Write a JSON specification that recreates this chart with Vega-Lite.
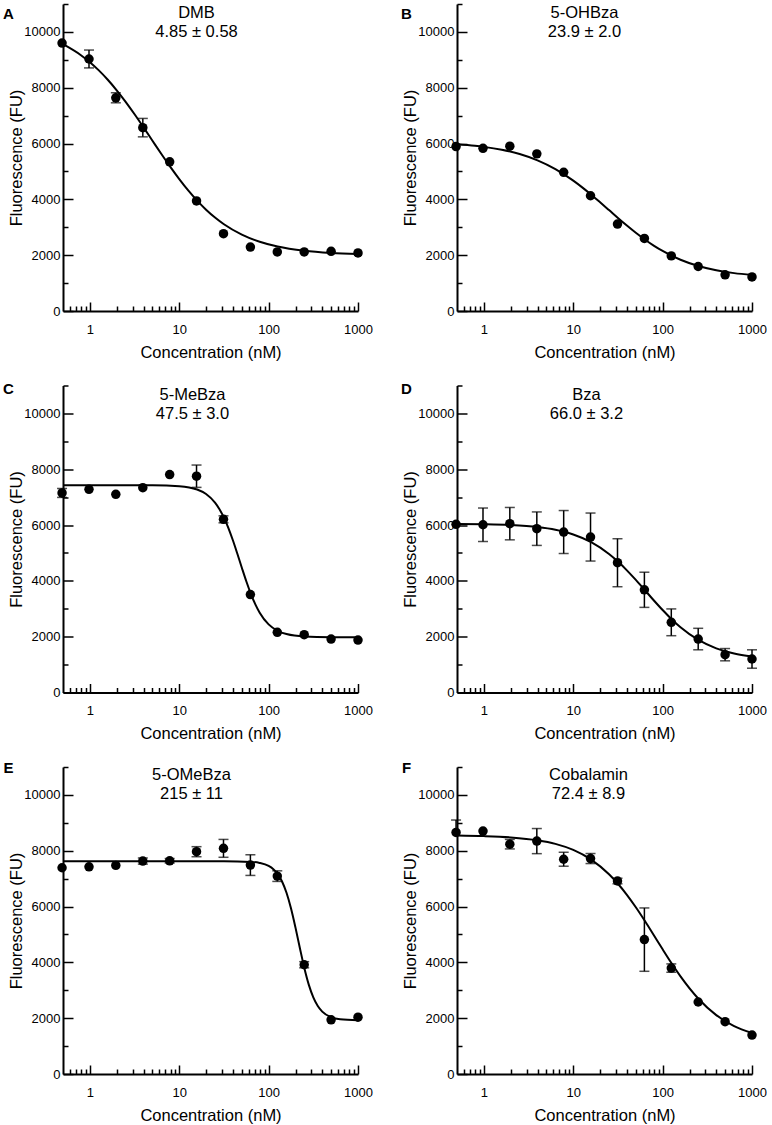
{
"$schema": "https://vega.github.io/schema/vega-lite/v6.json",
"padding": {"left": 2, "top": 3, "right": 0, "bottom": 0},
"data": {"values": [
{"p":"A","k":"pt","c":0.488,"y":9600,"lo":9600,"hi":9600},
{"p":"A","k":"pt","c":0.977,"y":9030,"lo":8710,"hi":9350},
{"p":"A","k":"pt","c":1.95,"y":7640,"lo":7460,"hi":7820},
{"p":"A","k":"pt","c":3.91,"y":6570,"lo":6240,"hi":6900},
{"p":"A","k":"pt","c":7.81,"y":5345,"lo":5345,"hi":5345},
{"p":"A","k":"pt","c":15.6,"y":3945,"lo":3945,"hi":3945},
{"p":"A","k":"pt","c":31.25,"y":2770,"lo":2770,"hi":2770},
{"p":"A","k":"pt","c":62.5,"y":2290,"lo":2290,"hi":2290},
{"p":"A","k":"pt","c":125,"y":2115,"lo":2115,"hi":2115},
{"p":"A","k":"pt","c":250,"y":2115,"lo":2115,"hi":2115},
{"p":"A","k":"pt","c":500,"y":2140,"lo":2140,"hi":2140},
{"p":"A","k":"pt","c":1000,"y":2080,"lo":2080,"hi":2080},

{"p":"B","k":"pt","c":0.488,"y":5890,"lo":5890,"hi":5890},
{"p":"B","k":"pt","c":0.977,"y":5830,"lo":5830,"hi":5830},
{"p":"B","k":"pt","c":1.95,"y":5905,"lo":5905,"hi":5905},
{"p":"B","k":"pt","c":3.91,"y":5630,"lo":5630,"hi":5630},
{"p":"B","k":"pt","c":7.81,"y":4970,"lo":4970,"hi":4970},
{"p":"B","k":"pt","c":15.6,"y":4130,"lo":4130,"hi":4130},
{"p":"B","k":"pt","c":31.25,"y":3115,"lo":3115,"hi":3115},
{"p":"B","k":"pt","c":62.5,"y":2600,"lo":2600,"hi":2600},
{"p":"B","k":"pt","c":125,"y":1975,"lo":1975,"hi":1975},
{"p":"B","k":"pt","c":250,"y":1595,"lo":1595,"hi":1595},
{"p":"B","k":"pt","c":500,"y":1295,"lo":1295,"hi":1295},
{"p":"B","k":"pt","c":1000,"y":1220,"lo":1220,"hi":1220},

{"p":"C","k":"pt","c":0.488,"y":7150,"lo":6990,"hi":7310},
{"p":"C","k":"pt","c":0.977,"y":7280,"lo":7280,"hi":7280},
{"p":"C","k":"pt","c":1.95,"y":7100,"lo":7100,"hi":7100},
{"p":"C","k":"pt","c":3.91,"y":7340,"lo":7340,"hi":7340},
{"p":"C","k":"pt","c":7.81,"y":7810,"lo":7810,"hi":7810},
{"p":"C","k":"pt","c":15.6,"y":7750,"lo":7350,"hi":8150},
{"p":"C","k":"pt","c":31.25,"y":6205,"lo":6080,"hi":6330},
{"p":"C","k":"pt","c":62.5,"y":3510,"lo":3510,"hi":3510},
{"p":"C","k":"pt","c":125,"y":2155,"lo":2155,"hi":2155},
{"p":"C","k":"pt","c":250,"y":2070,"lo":2070,"hi":2070},
{"p":"C","k":"pt","c":500,"y":1915,"lo":1915,"hi":1915},
{"p":"C","k":"pt","c":1000,"y":1880,"lo":1880,"hi":1880},

{"p":"D","k":"pt","c":0.488,"y":6025,"lo":6025,"hi":6025},
{"p":"D","k":"pt","c":0.977,"y":6010,"lo":5410,"hi":6610},
{"p":"D","k":"pt","c":1.95,"y":6050,"lo":5470,"hi":6630},
{"p":"D","k":"pt","c":3.91,"y":5870,"lo":5270,"hi":6470},
{"p":"D","k":"pt","c":7.81,"y":5750,"lo":4980,"hi":6520},
{"p":"D","k":"pt","c":15.6,"y":5570,"lo":4710,"hi":6430},
{"p":"D","k":"pt","c":31.25,"y":4650,"lo":3790,"hi":5510},
{"p":"D","k":"pt","c":62.5,"y":3680,"lo":3050,"hi":4310},
{"p":"D","k":"pt","c":125,"y":2515,"lo":2035,"hi":2995},
{"p":"D","k":"pt","c":250,"y":1915,"lo":1530,"hi":2300},
{"p":"D","k":"pt","c":500,"y":1355,"lo":1135,"hi":1575},
{"p":"D","k":"pt","c":1000,"y":1200,"lo":870,"hi":1530},

{"p":"E","k":"pt","c":0.488,"y":7390,"lo":7390,"hi":7390},
{"p":"E","k":"pt","c":0.977,"y":7425,"lo":7425,"hi":7425},
{"p":"E","k":"pt","c":1.95,"y":7475,"lo":7475,"hi":7475},
{"p":"E","k":"pt","c":3.91,"y":7630,"lo":7520,"hi":7740},
{"p":"E","k":"pt","c":7.81,"y":7640,"lo":7560,"hi":7720},
{"p":"E","k":"pt","c":15.6,"y":7965,"lo":7785,"hi":8145},
{"p":"E","k":"pt","c":31.25,"y":8085,"lo":7765,"hi":8405},
{"p":"E","k":"pt","c":62.5,"y":7485,"lo":7115,"hi":7855},
{"p":"E","k":"pt","c":125,"y":7090,"lo":6900,"hi":7280},
{"p":"E","k":"pt","c":250,"y":3915,"lo":3805,"hi":4025},
{"p":"E","k":"pt","c":500,"y":1940,"lo":1940,"hi":1940},
{"p":"E","k":"pt","c":1000,"y":2035,"lo":2035,"hi":2035},

{"p":"F","k":"pt","c":0.488,"y":8655,"lo":8655,"hi":9100},
{"p":"F","k":"pt","c":0.977,"y":8705,"lo":8705,"hi":8705},
{"p":"F","k":"pt","c":1.95,"y":8235,"lo":8065,"hi":8405},
{"p":"F","k":"pt","c":3.91,"y":8345,"lo":7895,"hi":8795},
{"p":"F","k":"pt","c":7.81,"y":7695,"lo":7445,"hi":7945},
{"p":"F","k":"pt","c":15.6,"y":7720,"lo":7540,"hi":7900},
{"p":"F","k":"pt","c":31.25,"y":6915,"lo":6815,"hi":7015},
{"p":"F","k":"pt","c":62.5,"y":4815,"lo":3680,"hi":5950},
{"p":"F","k":"pt","c":125,"y":3795,"lo":3645,"hi":3945},
{"p":"F","k":"pt","c":250,"y":2580,"lo":2580,"hi":2580},
{"p":"F","k":"pt","c":500,"y":1875,"lo":1875,"hi":1875},
{"p":"F","k":"pt","c":1000,"y":1395,"lo":1395,"hi":1395},

{"p":"A","k":"fit","c":0.5,"y":9560},{"p":"A","k":"fit","c":0.794,"y":9166},{"p":"A","k":"fit","c":1,"y":8915},{"p":"A","k":"fit","c":1.259,"y":8621},{"p":"A","k":"fit","c":1.585,"y":8286},{"p":"A","k":"fit","c":1.995,"y":7909},{"p":"A","k":"fit","c":2.512,"y":7494},{"p":"A","k":"fit","c":3.162,"y":7048},{"p":"A","k":"fit","c":3.981,"y":6580},{"p":"A","k":"fit","c":5.012,"y":6102},{"p":"A","k":"fit","c":6.31,"y":5625},{"p":"A","k":"fit","c":7.943,"y":5162},{"p":"A","k":"fit","c":10,"y":4724},{"p":"A","k":"fit","c":12.59,"y":4319},{"p":"A","k":"fit","c":15.85,"y":3954},{"p":"A","k":"fit","c":19.95,"y":3631},{"p":"A","k":"fit","c":25.12,"y":3349},{"p":"A","k":"fit","c":31.62,"y":3109},{"p":"A","k":"fit","c":50.12,"y":2736},{"p":"A","k":"fit","c":79.43,"y":2480},{"p":"A","k":"fit","c":125.9,"y":2309},{"p":"A","k":"fit","c":251.2,"y":2158},{"p":"A","k":"fit","c":501.2,"y":2080},{"p":"A","k":"fit","c":1000,"y":2040},

{"p":"B","k":"fit","c":0.5,"y":5974},{"p":"B","k":"fit","c":0.794,"y":5919},{"p":"B","k":"fit","c":1,"y":5881},{"p":"B","k":"fit","c":1.585,"y":5778},{"p":"B","k":"fit","c":2.512,"y":5623},{"p":"B","k":"fit","c":3.981,"y":5397},{"p":"B","k":"fit","c":6.31,"y":5083},{"p":"B","k":"fit","c":10,"y":4670},{"p":"B","k":"fit","c":12.59,"y":4429},{"p":"B","k":"fit","c":15.85,"y":4169},{"p":"B","k":"fit","c":19.95,"y":3895},{"p":"B","k":"fit","c":25.12,"y":3615},{"p":"B","k":"fit","c":31.62,"y":3333},{"p":"B","k":"fit","c":39.81,"y":3060},{"p":"B","k":"fit","c":50.12,"y":2801},{"p":"B","k":"fit","c":63.1,"y":2561},{"p":"B","k":"fit","c":79.43,"y":2343},{"p":"B","k":"fit","c":100,"y":2150},{"p":"B","k":"fit","c":158.5,"y":1838},{"p":"B","k":"fit","c":251.2,"y":1613},{"p":"B","k":"fit","c":398.1,"y":1460},{"p":"B","k":"fit","c":631,"y":1357},{"p":"B","k":"fit","c":1000,"y":1290},

{"p":"C","k":"fit","c":0.5,"y":7430},{"p":"C","k":"fit","c":1.995,"y":7430},{"p":"C","k":"fit","c":5.012,"y":7426},{"p":"C","k":"fit","c":10,"y":7393},{"p":"C","k":"fit","c":15.85,"y":7272},{"p":"C","k":"fit","c":19.95,"y":7110},{"p":"C","k":"fit","c":25.12,"y":6802},{"p":"C","k":"fit","c":28.18,"y":6567},{"p":"C","k":"fit","c":31.62,"y":6265},{"p":"C","k":"fit","c":35.48,"y":5892},{"p":"C","k":"fit","c":39.81,"y":5455},{"p":"C","k":"fit","c":44.67,"y":4972},{"p":"C","k":"fit","c":50.12,"y":4472},{"p":"C","k":"fit","c":56.23,"y":3986},{"p":"C","k":"fit","c":63.1,"y":3546},{"p":"C","k":"fit","c":70.79,"y":3169},{"p":"C","k":"fit","c":79.43,"y":2861},{"p":"C","k":"fit","c":100,"y":2441},{"p":"C","k":"fit","c":125.9,"y":2211},{"p":"C","k":"fit","c":158.5,"y":2093},{"p":"C","k":"fit","c":251.2,"y":2006},{"p":"C","k":"fit","c":501.2,"y":1983},{"p":"C","k":"fit","c":1000,"y":1980},

{"p":"D","k":"fit","c":0.5,"y":6041},{"p":"D","k":"fit","c":1,"y":6029},{"p":"D","k":"fit","c":1.995,"y":5999},{"p":"D","k":"fit","c":3.981,"y":5926},{"p":"D","k":"fit","c":6.31,"y":5829},{"p":"D","k":"fit","c":10,"y":5662},{"p":"D","k":"fit","c":15.85,"y":5387},{"p":"D","k":"fit","c":25.12,"y":4964},{"p":"D","k":"fit","c":31.62,"y":4690},{"p":"D","k":"fit","c":39.81,"y":4377},{"p":"D","k":"fit","c":50.12,"y":4034},{"p":"D","k":"fit","c":63.1,"y":3672},{"p":"D","k":"fit","c":79.43,"y":3306},{"p":"D","k":"fit","c":100,"y":2954},{"p":"D","k":"fit","c":125.9,"y":2628},{"p":"D","k":"fit","c":158.5,"y":2338},{"p":"D","k":"fit","c":251.2,"y":1883},{"p":"D","k":"fit","c":398.1,"y":1582},{"p":"D","k":"fit","c":631,"y":1397},{"p":"D","k":"fit","c":1000,"y":1289},

{"p":"E","k":"fit","c":0.5,"y":7620},{"p":"E","k":"fit","c":3.162,"y":7620},{"p":"E","k":"fit","c":10,"y":7620},{"p":"E","k":"fit","c":31.62,"y":7619},{"p":"E","k":"fit","c":63.1,"y":7600},{"p":"E","k":"fit","c":79.43,"y":7562},{"p":"E","k":"fit","c":100,"y":7456},{"p":"E","k":"fit","c":112.2,"y":7347},{"p":"E","k":"fit","c":125.9,"y":7172},{"p":"E","k":"fit","c":141.3,"y":6898},{"p":"E","k":"fit","c":158.5,"y":6495},{"p":"E","k":"fit","c":177.8,"y":5940},{"p":"E","k":"fit","c":199.5,"y":5254},{"p":"E","k":"fit","c":223.9,"y":4505},{"p":"E","k":"fit","c":251.2,"y":3791},{"p":"E","k":"fit","c":281.8,"y":3194},{"p":"E","k":"fit","c":316.2,"y":2746},{"p":"E","k":"fit","c":354.8,"y":2437},{"p":"E","k":"fit","c":398.1,"y":2236},{"p":"E","k":"fit","c":501.2,"y":2034},{"p":"E","k":"fit","c":631,"y":1960},{"p":"E","k":"fit","c":1000,"y":1925},

{"p":"F","k":"fit","c":0.5,"y":8544},{"p":"F","k":"fit","c":1,"y":8524},{"p":"F","k":"fit","c":1.995,"y":8478},{"p":"F","k":"fit","c":3.981,"y":8375},{"p":"F","k":"fit","c":6.31,"y":8245},{"p":"F","k":"fit","c":10,"y":8029},{"p":"F","k":"fit","c":15.85,"y":7683},{"p":"F","k":"fit","c":25.12,"y":7158},{"p":"F","k":"fit","c":31.62,"y":6816},{"p":"F","k":"fit","c":39.81,"y":6420},{"p":"F","k":"fit","c":50.12,"y":5974},{"p":"F","k":"fit","c":63.1,"y":5490},{"p":"F","k":"fit","c":79.43,"y":4981},{"p":"F","k":"fit","c":100,"y":4467},{"p":"F","k":"fit","c":125.9,"y":3967},{"p":"F","k":"fit","c":158.5,"y":3497},{"p":"F","k":"fit","c":251.2,"y":2697},{"p":"F","k":"fit","c":398.1,"y":2111},{"p":"F","k":"fit","c":631,"y":1718},{"p":"F","k":"fit","c":1000,"y":1468}
]},
"concat": [
{"transform": [{"filter": "datum.p === 'A'"}], "width": 295, "height": 307,
 "resolve": {"axis": {"x": "independent", "y": "independent"}},
 "layer": [
  {"transform": [{"filter": "datum.k === 'fit'"}], "mark": {"type": "line", "interpolate": "monotone", "color": "black", "strokeWidth": 2},
   "encoding": {"x": {"field": "c", "type": "quantitative", "scale": {"type": "log", "domain": [0.5, 1000], "nice": false}, "axis": {"orient": "bottom", "title": null, "labels": false, "domain": false, "values": [0.6,0.7,0.8,0.9,2,3,4,5,6,7,8,9,20,30,40,50,60,70,80,90,200,300,400,500,600,700,800,900], "tickSize": -5}},
     "y": {"field": "y", "type": "quantitative", "scale": {"domain": [0, 11000], "nice": false, "zero": false}, "axis": {"orient": "left", "title": null, "labels": false, "domain": false, "values": [1000,3000,5000,7000,9000,11000], "tickSize": -5}}}},
  {"transform": [{"filter": "datum.k === 'pt' && datum.hi > datum.lo"}], "mark": {"type": "rule", "color": "black", "strokeWidth": 1.5},
   "encoding": {"x": {"field": "c", "type": "quantitative", "scale": {"type": "log", "domain": [0.5, 1000], "nice": false}, "axis": {"orient": "top", "domain": false, "ticks": false, "labels": false, "title": ["DMB", "4.85 ± 0.58"], "titleX": 133, "titleY": 13, "titleBaseline": "alphabetic", "titleAlign": "center", "titleAngle": 0, "titleFontSize": 16.5, "titleLineHeight": 19}},
     "y": {"field": "lo", "type": "quantitative", "scale": {"domain": [0, 11000], "nice": false, "zero": false}, "axis": null}, "y2": {"field": "hi"}}},
  {"transform": [{"filter": "datum.k === 'pt' && datum.hi > datum.y"}], "mark": {"type": "tick", "orient": "horizontal", "color": "black", "thickness": 1.5, "size": 10},
   "encoding": {"x": {"field": "c", "type": "quantitative", "scale": {"type": "log", "domain": [0.5, 1000], "nice": false}, "axis": null},
     "y": {"field": "hi", "type": "quantitative", "scale": {"domain": [0, 11000], "nice": false, "zero": false}, "axis": {"orient": "right", "domain": false, "ticks": false, "labels": false, "title": "A", "titleX": -350, "titleY": 14, "titleBaseline": "alphabetic", "titleAlign": "center", "titleAngle": 0, "titleFontSize": 15, "titleFontWeight": "bold"}}}},
  {"transform": [{"filter": "datum.k === 'pt' && datum.lo < datum.y"}], "mark": {"type": "tick", "orient": "horizontal", "color": "black", "thickness": 1.5, "size": 10},
   "encoding": {"x": {"field": "c", "type": "quantitative", "scale": {"type": "log", "domain": [0.5, 1000], "nice": false}, "axis": null},
     "y": {"field": "lo", "type": "quantitative", "scale": {"domain": [0, 11000], "nice": false, "zero": false}, "axis": null}}},
  {"transform": [{"filter": "datum.k === 'pt'"}], "mark": {"type": "circle", "color": "black", "opacity": 1, "size": 90},
   "encoding": {"x": {"field": "c", "type": "quantitative", "scale": {"type": "log", "domain": [0.5, 1000], "nice": false}, "axis": {"orient": "bottom", "title": "Concentration (nM)", "values": [1,10,100,1000], "format": "d", "tickSize": -9, "labelPadding": 21, "titlePadding": 8}},
     "y": {"field": "y", "type": "quantitative", "scale": {"domain": [0, 11000], "nice": false, "zero": false}, "axis": {"orient": "left", "title": "Fluorescence (FU)", "values": [0,2000,4000,6000,8000,10000], "format": "d", "tickSize": -10, "labelPadding": 13, "titlePadding": -1}}}}
 ]},
{"transform": [{"filter": "datum.p === 'B'"}], "width": 295, "height": 307,
 "resolve": {"axis": {"x": "independent", "y": "independent"}},
 "layer": [
  {"transform": [{"filter": "datum.k === 'fit'"}], "mark": {"type": "line", "interpolate": "monotone", "color": "black", "strokeWidth": 2},
   "encoding": {"x": {"field": "c", "type": "quantitative", "scale": {"type": "log", "domain": [0.5, 1000], "nice": false}, "axis": {"orient": "bottom", "title": null, "labels": false, "domain": false, "values": [0.6,0.7,0.8,0.9,2,3,4,5,6,7,8,9,20,30,40,50,60,70,80,90,200,300,400,500,600,700,800,900], "tickSize": -5}},
     "y": {"field": "y", "type": "quantitative", "scale": {"domain": [0, 11000], "nice": false, "zero": false}, "axis": {"orient": "left", "title": null, "labels": false, "domain": false, "values": [1000,3000,5000,7000,9000,11000], "tickSize": -5}}}},
  {"transform": [{"filter": "datum.k === 'pt' && datum.hi > datum.lo"}], "mark": {"type": "rule", "color": "black", "strokeWidth": 1.5},
   "encoding": {"x": {"field": "c", "type": "quantitative", "scale": {"type": "log", "domain": [0.5, 1000], "nice": false}, "axis": {"orient": "top", "domain": false, "ticks": false, "labels": false, "title": ["5-OHBza", "23.9 ± 2.0"], "titleX": 127, "titleY": 13, "titleBaseline": "alphabetic", "titleAlign": "center", "titleAngle": 0, "titleFontSize": 16.5, "titleLineHeight": 19}},
     "y": {"field": "lo", "type": "quantitative", "scale": {"domain": [0, 11000], "nice": false, "zero": false}, "axis": null}, "y2": {"field": "hi"}}},
  {"transform": [{"filter": "datum.k === 'pt' && datum.hi > datum.y"}], "mark": {"type": "tick", "orient": "horizontal", "color": "black", "thickness": 1.5, "size": 10},
   "encoding": {"x": {"field": "c", "type": "quantitative", "scale": {"type": "log", "domain": [0.5, 1000], "nice": false}, "axis": null},
     "y": {"field": "hi", "type": "quantitative", "scale": {"domain": [0, 11000], "nice": false, "zero": false}, "axis": {"orient": "right", "domain": false, "ticks": false, "labels": false, "title": "B", "titleX": -346, "titleY": 14, "titleBaseline": "alphabetic", "titleAlign": "center", "titleAngle": 0, "titleFontSize": 15, "titleFontWeight": "bold"}}}},
  {"transform": [{"filter": "datum.k === 'pt' && datum.lo < datum.y"}], "mark": {"type": "tick", "orient": "horizontal", "color": "black", "thickness": 1.5, "size": 10},
   "encoding": {"x": {"field": "c", "type": "quantitative", "scale": {"type": "log", "domain": [0.5, 1000], "nice": false}, "axis": null},
     "y": {"field": "lo", "type": "quantitative", "scale": {"domain": [0, 11000], "nice": false, "zero": false}, "axis": null}}},
  {"transform": [{"filter": "datum.k === 'pt'"}], "mark": {"type": "circle", "color": "black", "opacity": 1, "size": 90},
   "encoding": {"x": {"field": "c", "type": "quantitative", "scale": {"type": "log", "domain": [0.5, 1000], "nice": false}, "axis": {"orient": "bottom", "title": "Concentration (nM)", "values": [1,10,100,1000], "format": "d", "tickSize": -9, "labelPadding": 21, "titlePadding": 8}},
     "y": {"field": "y", "type": "quantitative", "scale": {"domain": [0, 11000], "nice": false, "zero": false}, "axis": {"orient": "left", "title": "Fluorescence (FU)", "values": [0,2000,4000,6000,8000,10000], "format": "d", "tickSize": -10, "labelPadding": 13, "titlePadding": -1}}}}
 ]},
{"transform": [{"filter": "datum.p === 'C'"}], "width": 295, "height": 307,
 "resolve": {"axis": {"x": "independent", "y": "independent"}},
 "layer": [
  {"transform": [{"filter": "datum.k === 'fit'"}], "mark": {"type": "line", "interpolate": "monotone", "color": "black", "strokeWidth": 2},
   "encoding": {"x": {"field": "c", "type": "quantitative", "scale": {"type": "log", "domain": [0.5, 1000], "nice": false}, "axis": {"orient": "bottom", "title": null, "labels": false, "domain": false, "values": [0.6,0.7,0.8,0.9,2,3,4,5,6,7,8,9,20,30,40,50,60,70,80,90,200,300,400,500,600,700,800,900], "tickSize": -5}},
     "y": {"field": "y", "type": "quantitative", "scale": {"domain": [0, 11000], "nice": false, "zero": false}, "axis": {"orient": "left", "title": null, "labels": false, "domain": false, "values": [1000,3000,5000,7000,9000,11000], "tickSize": -5}}}},
  {"transform": [{"filter": "datum.k === 'pt' && datum.hi > datum.lo"}], "mark": {"type": "rule", "color": "black", "strokeWidth": 1.5},
   "encoding": {"x": {"field": "c", "type": "quantitative", "scale": {"type": "log", "domain": [0.5, 1000], "nice": false}, "axis": {"orient": "top", "domain": false, "ticks": false, "labels": false, "title": ["5-MeBza", "47.5 ± 3.0"], "titleX": 129, "titleY": 14, "titleBaseline": "alphabetic", "titleAlign": "center", "titleAngle": 0, "titleFontSize": 16.5, "titleLineHeight": 19}},
     "y": {"field": "lo", "type": "quantitative", "scale": {"domain": [0, 11000], "nice": false, "zero": false}, "axis": null}, "y2": {"field": "hi"}}},
  {"transform": [{"filter": "datum.k === 'pt' && datum.hi > datum.y"}], "mark": {"type": "tick", "orient": "horizontal", "color": "black", "thickness": 1.5, "size": 10},
   "encoding": {"x": {"field": "c", "type": "quantitative", "scale": {"type": "log", "domain": [0.5, 1000], "nice": false}, "axis": null},
     "y": {"field": "hi", "type": "quantitative", "scale": {"domain": [0, 11000], "nice": false, "zero": false}, "axis": {"orient": "right", "domain": false, "ticks": false, "labels": false, "title": "C", "titleX": -350, "titleY": 8, "titleBaseline": "alphabetic", "titleAlign": "center", "titleAngle": 0, "titleFontSize": 15, "titleFontWeight": "bold"}}}},
  {"transform": [{"filter": "datum.k === 'pt' && datum.lo < datum.y"}], "mark": {"type": "tick", "orient": "horizontal", "color": "black", "thickness": 1.5, "size": 10},
   "encoding": {"x": {"field": "c", "type": "quantitative", "scale": {"type": "log", "domain": [0.5, 1000], "nice": false}, "axis": null},
     "y": {"field": "lo", "type": "quantitative", "scale": {"domain": [0, 11000], "nice": false, "zero": false}, "axis": null}}},
  {"transform": [{"filter": "datum.k === 'pt'"}], "mark": {"type": "circle", "color": "black", "opacity": 1, "size": 90},
   "encoding": {"x": {"field": "c", "type": "quantitative", "scale": {"type": "log", "domain": [0.5, 1000], "nice": false}, "axis": {"orient": "bottom", "title": "Concentration (nM)", "values": [1,10,100,1000], "format": "d", "tickSize": -9, "labelPadding": 21, "titlePadding": 8}},
     "y": {"field": "y", "type": "quantitative", "scale": {"domain": [0, 11000], "nice": false, "zero": false}, "axis": {"orient": "left", "title": "Fluorescence (FU)", "values": [0,2000,4000,6000,8000,10000], "format": "d", "tickSize": -10, "labelPadding": 13, "titlePadding": -1}}}}
 ]},
{"transform": [{"filter": "datum.p === 'D'"}], "width": 295, "height": 307,
 "resolve": {"axis": {"x": "independent", "y": "independent"}},
 "layer": [
  {"transform": [{"filter": "datum.k === 'fit'"}], "mark": {"type": "line", "interpolate": "monotone", "color": "black", "strokeWidth": 2},
   "encoding": {"x": {"field": "c", "type": "quantitative", "scale": {"type": "log", "domain": [0.5, 1000], "nice": false}, "axis": {"orient": "bottom", "title": null, "labels": false, "domain": false, "values": [0.6,0.7,0.8,0.9,2,3,4,5,6,7,8,9,20,30,40,50,60,70,80,90,200,300,400,500,600,700,800,900], "tickSize": -5}},
     "y": {"field": "y", "type": "quantitative", "scale": {"domain": [0, 11000], "nice": false, "zero": false}, "axis": {"orient": "left", "title": null, "labels": false, "domain": false, "values": [1000,3000,5000,7000,9000,11000], "tickSize": -5}}}},
  {"transform": [{"filter": "datum.k === 'pt' && datum.hi > datum.lo"}], "mark": {"type": "rule", "color": "black", "strokeWidth": 1.5},
   "encoding": {"x": {"field": "c", "type": "quantitative", "scale": {"type": "log", "domain": [0.5, 1000], "nice": false}, "axis": {"orient": "top", "domain": false, "ticks": false, "labels": false, "title": ["Bza", "66.0 ± 3.2"], "titleX": 129, "titleY": 14, "titleBaseline": "alphabetic", "titleAlign": "center", "titleAngle": 0, "titleFontSize": 16.5, "titleLineHeight": 19}},
     "y": {"field": "lo", "type": "quantitative", "scale": {"domain": [0, 11000], "nice": false, "zero": false}, "axis": null}, "y2": {"field": "hi"}}},
  {"transform": [{"filter": "datum.k === 'pt' && datum.hi > datum.y"}], "mark": {"type": "tick", "orient": "horizontal", "color": "black", "thickness": 1.5, "size": 10},
   "encoding": {"x": {"field": "c", "type": "quantitative", "scale": {"type": "log", "domain": [0.5, 1000], "nice": false}, "axis": null},
     "y": {"field": "hi", "type": "quantitative", "scale": {"domain": [0, 11000], "nice": false, "zero": false}, "axis": {"orient": "right", "domain": false, "ticks": false, "labels": false, "title": "D", "titleX": -346, "titleY": 8, "titleBaseline": "alphabetic", "titleAlign": "center", "titleAngle": 0, "titleFontSize": 15, "titleFontWeight": "bold"}}}},
  {"transform": [{"filter": "datum.k === 'pt' && datum.lo < datum.y"}], "mark": {"type": "tick", "orient": "horizontal", "color": "black", "thickness": 1.5, "size": 10},
   "encoding": {"x": {"field": "c", "type": "quantitative", "scale": {"type": "log", "domain": [0.5, 1000], "nice": false}, "axis": null},
     "y": {"field": "lo", "type": "quantitative", "scale": {"domain": [0, 11000], "nice": false, "zero": false}, "axis": null}}},
  {"transform": [{"filter": "datum.k === 'pt'"}], "mark": {"type": "circle", "color": "black", "opacity": 1, "size": 90},
   "encoding": {"x": {"field": "c", "type": "quantitative", "scale": {"type": "log", "domain": [0.5, 1000], "nice": false}, "axis": {"orient": "bottom", "title": "Concentration (nM)", "values": [1,10,100,1000], "format": "d", "tickSize": -9, "labelPadding": 21, "titlePadding": 8}},
     "y": {"field": "y", "type": "quantitative", "scale": {"domain": [0, 11000], "nice": false, "zero": false}, "axis": {"orient": "left", "title": "Fluorescence (FU)", "values": [0,2000,4000,6000,8000,10000], "format": "d", "tickSize": -10, "labelPadding": 13, "titlePadding": -1}}}}
 ]},
{"transform": [{"filter": "datum.p === 'E'"}], "width": 295, "height": 307,
 "resolve": {"axis": {"x": "independent", "y": "independent"}},
 "layer": [
  {"transform": [{"filter": "datum.k === 'fit'"}], "mark": {"type": "line", "interpolate": "monotone", "color": "black", "strokeWidth": 2},
   "encoding": {"x": {"field": "c", "type": "quantitative", "scale": {"type": "log", "domain": [0.5, 1000], "nice": false}, "axis": {"orient": "bottom", "title": null, "labels": false, "domain": false, "values": [0.6,0.7,0.8,0.9,2,3,4,5,6,7,8,9,20,30,40,50,60,70,80,90,200,300,400,500,600,700,800,900], "tickSize": -5}},
     "y": {"field": "y", "type": "quantitative", "scale": {"domain": [0, 11000], "nice": false, "zero": false}, "axis": {"orient": "left", "title": null, "labels": false, "domain": false, "values": [1000,3000,5000,7000,9000,11000], "tickSize": -5}}}},
  {"transform": [{"filter": "datum.k === 'pt' && datum.hi > datum.lo"}], "mark": {"type": "rule", "color": "black", "strokeWidth": 1.5},
   "encoding": {"x": {"field": "c", "type": "quantitative", "scale": {"type": "log", "domain": [0.5, 1000], "nice": false}, "axis": {"orient": "top", "domain": false, "ticks": false, "labels": false, "title": ["5-OMeBza", "215 ± 11"], "titleX": 128, "titleY": 12.5, "titleBaseline": "alphabetic", "titleAlign": "center", "titleAngle": 0, "titleFontSize": 16.5, "titleLineHeight": 19}},
     "y": {"field": "lo", "type": "quantitative", "scale": {"domain": [0, 11000], "nice": false, "zero": false}, "axis": null}, "y2": {"field": "hi"}}},
  {"transform": [{"filter": "datum.k === 'pt' && datum.hi > datum.y"}], "mark": {"type": "tick", "orient": "horizontal", "color": "black", "thickness": 1.5, "size": 10},
   "encoding": {"x": {"field": "c", "type": "quantitative", "scale": {"type": "log", "domain": [0.5, 1000], "nice": false}, "axis": null},
     "y": {"field": "hi", "type": "quantitative", "scale": {"domain": [0, 11000], "nice": false, "zero": false}, "axis": {"orient": "right", "domain": false, "ticks": false, "labels": false, "title": "E", "titleX": -350, "titleY": 5, "titleBaseline": "alphabetic", "titleAlign": "center", "titleAngle": 0, "titleFontSize": 15, "titleFontWeight": "bold"}}}},
  {"transform": [{"filter": "datum.k === 'pt' && datum.lo < datum.y"}], "mark": {"type": "tick", "orient": "horizontal", "color": "black", "thickness": 1.5, "size": 10},
   "encoding": {"x": {"field": "c", "type": "quantitative", "scale": {"type": "log", "domain": [0.5, 1000], "nice": false}, "axis": null},
     "y": {"field": "lo", "type": "quantitative", "scale": {"domain": [0, 11000], "nice": false, "zero": false}, "axis": null}}},
  {"transform": [{"filter": "datum.k === 'pt'"}], "mark": {"type": "circle", "color": "black", "opacity": 1, "size": 90},
   "encoding": {"x": {"field": "c", "type": "quantitative", "scale": {"type": "log", "domain": [0.5, 1000], "nice": false}, "axis": {"orient": "bottom", "title": "Concentration (nM)", "values": [1,10,100,1000], "format": "d", "tickSize": -9, "labelPadding": 21, "titlePadding": 8}},
     "y": {"field": "y", "type": "quantitative", "scale": {"domain": [0, 11000], "nice": false, "zero": false}, "axis": {"orient": "left", "title": "Fluorescence (FU)", "values": [0,2000,4000,6000,8000,10000], "format": "d", "tickSize": -10, "labelPadding": 13, "titlePadding": -1}}}}
 ]},
{"transform": [{"filter": "datum.p === 'F'"}], "width": 295, "height": 307,
 "resolve": {"axis": {"x": "independent", "y": "independent"}},
 "layer": [
  {"transform": [{"filter": "datum.k === 'fit'"}], "mark": {"type": "line", "interpolate": "monotone", "color": "black", "strokeWidth": 2},
   "encoding": {"x": {"field": "c", "type": "quantitative", "scale": {"type": "log", "domain": [0.5, 1000], "nice": false}, "axis": {"orient": "bottom", "title": null, "labels": false, "domain": false, "values": [0.6,0.7,0.8,0.9,2,3,4,5,6,7,8,9,20,30,40,50,60,70,80,90,200,300,400,500,600,700,800,900], "tickSize": -5}},
     "y": {"field": "y", "type": "quantitative", "scale": {"domain": [0, 11000], "nice": false, "zero": false}, "axis": {"orient": "left", "title": null, "labels": false, "domain": false, "values": [1000,3000,5000,7000,9000,11000], "tickSize": -5}}}},
  {"transform": [{"filter": "datum.k === 'pt' && datum.hi > datum.lo"}], "mark": {"type": "rule", "color": "black", "strokeWidth": 1.5},
   "encoding": {"x": {"field": "c", "type": "quantitative", "scale": {"type": "log", "domain": [0.5, 1000], "nice": false}, "axis": {"orient": "top", "domain": false, "ticks": false, "labels": false, "title": ["Cobalamin", "72.4 ± 8.9"], "titleX": 131, "titleY": 12.5, "titleBaseline": "alphabetic", "titleAlign": "center", "titleAngle": 0, "titleFontSize": 16.5, "titleLineHeight": 19}},
     "y": {"field": "lo", "type": "quantitative", "scale": {"domain": [0, 11000], "nice": false, "zero": false}, "axis": null}, "y2": {"field": "hi"}}},
  {"transform": [{"filter": "datum.k === 'pt' && datum.hi > datum.y"}], "mark": {"type": "tick", "orient": "horizontal", "color": "black", "thickness": 1.5, "size": 10},
   "encoding": {"x": {"field": "c", "type": "quantitative", "scale": {"type": "log", "domain": [0.5, 1000], "nice": false}, "axis": null},
     "y": {"field": "hi", "type": "quantitative", "scale": {"domain": [0, 11000], "nice": false, "zero": false}, "axis": {"orient": "right", "domain": false, "ticks": false, "labels": false, "title": "F", "titleX": -346, "titleY": 5, "titleBaseline": "alphabetic", "titleAlign": "center", "titleAngle": 0, "titleFontSize": 15, "titleFontWeight": "bold"}}}},
  {"transform": [{"filter": "datum.k === 'pt' && datum.lo < datum.y"}], "mark": {"type": "tick", "orient": "horizontal", "color": "black", "thickness": 1.5, "size": 10},
   "encoding": {"x": {"field": "c", "type": "quantitative", "scale": {"type": "log", "domain": [0.5, 1000], "nice": false}, "axis": null},
     "y": {"field": "lo", "type": "quantitative", "scale": {"domain": [0, 11000], "nice": false, "zero": false}, "axis": null}}},
  {"transform": [{"filter": "datum.k === 'pt'"}], "mark": {"type": "circle", "color": "black", "opacity": 1, "size": 90},
   "encoding": {"x": {"field": "c", "type": "quantitative", "scale": {"type": "log", "domain": [0.5, 1000], "nice": false}, "axis": {"orient": "bottom", "title": "Concentration (nM)", "values": [1,10,100,1000], "format": "d", "tickSize": -9, "labelPadding": 21, "titlePadding": 8}},
     "y": {"field": "y", "type": "quantitative", "scale": {"domain": [0, 11000], "nice": false, "zero": false}, "axis": {"orient": "left", "title": "Fluorescence (FU)", "values": [0,2000,4000,6000,8000,10000], "format": "d", "tickSize": -10, "labelPadding": 13, "titlePadding": -1}}}}
 ]}
],
"columns": 2,
"spacing": {"row": 74.5, "column": 99},
"bounds": "flush",
"config": {
  "font": "Liberation Sans",
  "view": {"stroke": null},
  "axis": {"grid": false, "labelFontSize": 13, "titleFontSize": 16.5, "titleFontWeight": "normal",
    "labelColor": "black", "titleColor": "black", "domainColor": "black", "tickColor": "black",
    "domainWidth": 2, "tickWidth": 1.5, "labelOverlap": false, "labelFlush": false,
    "labelFont": "Liberation Sans", "titleFont": "Liberation Sans"}
}
}
